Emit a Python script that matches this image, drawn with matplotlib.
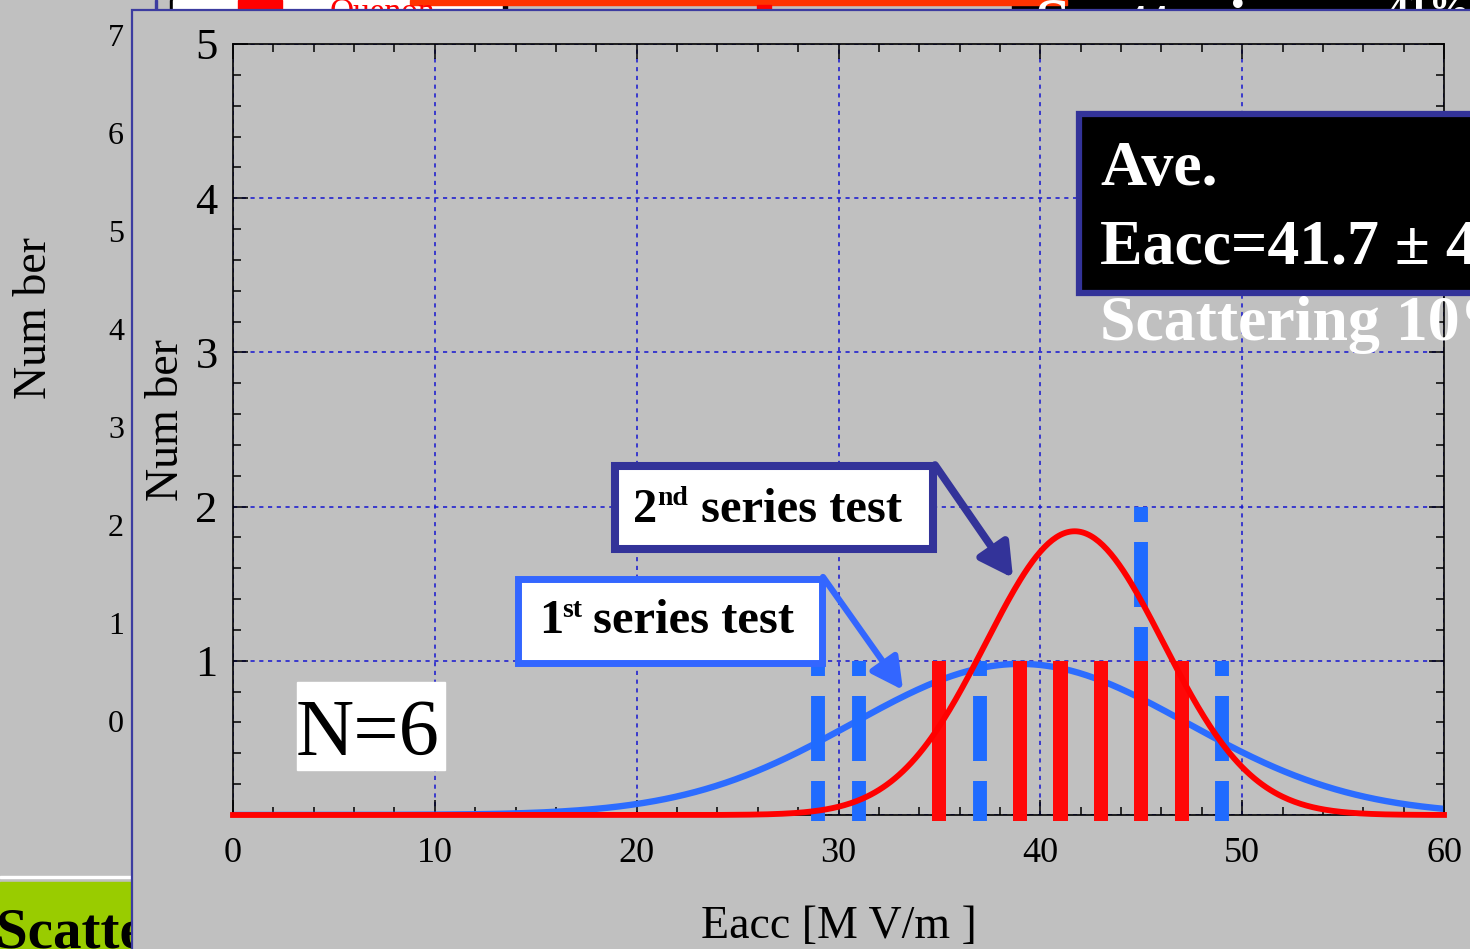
import numpy as np
import matplotlib
matplotlib.use("Agg")
from matplotlib import pyplot as plt
from matplotlib.patches import Rectangle, FancyArrowPatch

plt.rcParams['font.family'] = ['Liberation Serif', 'DejaVu Serif']
plt.rcParams['lines.scale_dashes'] = False

# counts per 2 MV/m bin
blue_x = [29, 31, 37, 45, 49]
blue_n = [1, 1, 1, 2, 1]
red_x = [35, 39, 41, 43, 45, 47]
red_n = [1, 1, 1, 1, 1, 1]

# gaussian fits: peak, mean, sigma
blue_fit = (0.98, 39.0, 8.3)
red_fit = (1.84, 41.7, 4.4)

x_ticks = [0, 10, 20, 30, 40, 50, 60]
x_labels = ['0', '10', '20', '30', '40', '50', '60']
y_ticks = [0, 1, 2, 3, 4, 5]
y_labels = ['', '1', '2', '3', '4', '5']
bg_ticks = [0, 1, 2, 3, 4, 5, 6, 7]

W, H = 1470, 949
GRAY = '#c0c0c0'


def fx(px):
    return px / W


def fy(py):
    return 1 - py / H


def rect(x0, y0, x1, y1, **kw):
    r = Rectangle((fx(x0), fy(y1)), fx(x1) - fx(x0), fy(y0) - fy(y1),
                  transform=fig.transFigure, **kw)
    fig.add_artist(r)
    return r


fig = plt.figure(figsize=(W / 100, H / 100), dpi=100, facecolor=GRAY)

# slide behind: old chart axis on the left
ax_bg = fig.add_axes([fx(131), fy(721), 0.3, fy(35) - fy(721)], zorder=0)
ax_bg.set_facecolor('none')
ax_bg.set_ylim(0, 7)
ax_bg.set_yticks(bg_ticks)
ax_bg.set_yticklabels([str(t) for t in bg_ticks])
ax_bg.tick_params(axis='y', length=0, pad=5, labelsize=23)
ax_bg.set_xticks([])
for s in ax_bg.spines.values():
    s.set_visible(False)
fig.text(fx(35), fy(318), 'Num ber', rotation=90, ha='center', va='center',
         size=33, zorder=0.6)

# bits of the slide peeking out at the top and bottom-left
rect(1012, 0, 1480, 10, color='black', zorder=0.45)
rect(155, 0, 157, 10, color='#3c3ca0', zorder=0.5)
rect(170, 0, 173, 10, color='black', zorder=0.5)
rect(173, 0, 503, 10, color='white', zorder=0.5)
rect(238, 0, 282, 10, color='#ff0000', zorder=0.5)
rect(503, 0, 507, 10, color='black', zorder=0.5)
rect(410, 0, 1067, 5, color='#ff3300', zorder=0.55)
rect(757, 5, 771, 10, color='#ff0000', zorder=0.55)
fig.text(fx(330), fy(21), 'Quenon', color='#ff0000', size=24,
         va='baseline', zorder=0.6)
fig.text(fx(1035), fy(42), 'Scattering', color='white', size=46,
         weight='bold', va='baseline', zorder=0.6)
fig.text(fx(1387), fy(22), '41%', color='white', size=30,
         weight='bold', va='baseline', zorder=0.6)
rect(0, 876, 131, 878, color='white', zorder=0.5)
rect(0, 882, 131, 960, color='#99cc00', zorder=0.5)
fig.text(fx(-4), fy(947), 'Scatte', color='black', size=41,
         weight='bold', va='baseline', zorder=0.6)

# front panel
rect(132, 10, 1500, 1000, facecolor=GRAY, edgecolor='#3c3ca0',
     linewidth=1.6, zorder=1)

# main histogram
ax = fig.add_axes([fx(233), fy(815), fx(1444) - fx(233), fy(44) - fy(815)],
                  zorder=2)
ax.set_facecolor('none')
ax.set_xlim(0, 60)
ax.set_ylim(0, 5)
ax.set_axisbelow(True)
ax.grid(True, which='major', color='#1515d0', linestyle=(0, (3, 3.3)),
        linewidth=1.1)

xs = np.linspace(0, 60, 601)
bp, bm, bs = blue_fit
rp, rm, rs = red_fit
ax.plot(xs, bp * np.exp(-0.5 * ((xs - bm) / bs) ** 2), color='#2c6cff',
        lw=4.6, zorder=2.5, solid_capstyle='butt')

for x, n in zip(blue_x, blue_n):
    ax.plot([x, x], [n, -0.04], color='#1f6bff', lw=10,
            dashes=[10.8, 14.4, 46.8, 14.4, 46.8, 14.4],
            dash_capstyle='butt', solid_capstyle='butt',
            clip_on=False, zorder=3)

ax.bar(red_x, np.array(red_n) + 0.04, bottom=-0.04, width=0.7,
       color='#ff0808', zorder=4, clip_on=False)

ax.plot(xs, rp * np.exp(-0.5 * ((xs - rm) / rs) ** 2), color='#ff0000',
        lw=4.2, zorder=5, clip_on=False)

ax.set_xticks(x_ticks)
ax.set_xticklabels(x_labels)
ax.set_yticks(y_ticks)
ax.set_yticklabels(y_labels)
ax.set_xticks(np.arange(0, 61, 2), minor=True)
ax.set_yticks(np.arange(0, 5.01, 0.2), minor=True)
ax.tick_params(which='both', direction='in', top=True, right=True,
               width=1.1, color='black')
ax.tick_params(which='major', length=11)
ax.tick_params(which='minor', length=6)
ax.tick_params(axis='x', which='major', labelsize=26, pad=16)
ax.tick_params(axis='y', which='major', labelsize=32, pad=11)
for s in ax.spines.values():
    s.set_linewidth(1.2)
    s.set_color('black')

ax.set_xlabel('Eacc [M V/m ]', size=33, va='center')
ax.xaxis.set_label_coords(0.5, -(927 - 815) / 771)
ax.set_ylabel('Num ber', size=33, va='center')
ax.yaxis.set_label_coords(-(233 - 167) / 1211, (815 - 420) / 771)

# N=6 tag
rect(297, 682, 445, 770, color='white', zorder=3)
fig.text(fx(368), fy(755), 'N=6', size=58, ha='center', va='baseline',
         zorder=6)

# series call-outs
rect(615, 466, 933, 549, facecolor='white', edgecolor='#333399',
     linewidth=5.8, zorder=5)
fig.text(fx(633), fy(522), '2', size=35, weight='bold', va='baseline', zorder=6)
fig.text(fx(657), fy(505), 'nd', size=20, weight='bold', va='baseline', zorder=6)
fig.text(fx(701), fy(522), 'series test', size=35, weight='bold',
         va='baseline', zorder=6)
fig.add_artist(FancyArrowPatch((fx(935), fy(465)), (fx(1013), fy(578)),
                               transform=fig.transFigure,
                               arrowstyle='-|>,head_length=1.0,head_width=0.55',
                               mutation_scale=20, color='#333399', lw=5.5,
                               shrinkA=0, shrinkB=0, zorder=5))

rect(517.5, 578.5, 821.5, 662.5, facecolor='white', edgecolor='#3366ff',
     linewidth=5, zorder=5)
fig.text(fx(539), fy(633), '1', size=35, weight='bold', va='baseline', zorder=6)
fig.text(fx(562), fy(617), 'st', size=20, weight='bold', va='baseline', zorder=6)
fig.text(fx(593), fy(633), 'series test', size=35, weight='bold',
         va='baseline', zorder=6)
fig.add_artist(FancyArrowPatch((fx(823), fy(577)), (fx(903), fy(690)),
                               transform=fig.transFigure,
                               arrowstyle='-|>,head_length=0.95,head_width=0.5',
                               mutation_scale=20, color='#3366ff', lw=4.5,
                               shrinkA=0, shrinkB=0, zorder=5))

# average box
rect(1079, 114, 1490, 293, facecolor='black', edgecolor='#333399',
     linewidth=4.5, zorder=5)
fig.text(fx(1100), fy(185), 'Ave.', color='white', size=46, weight='bold',
         va='baseline', zorder=6)
fig.text(fx(1100), fy(263), 'Eacc=41.7 ± 4', color='white', size=46,
         weight='bold', va='baseline', zorder=6)
fig.text(fx(1100), fy(340), 'Scattering 10%', color='white', size=46,
         weight='bold', va='baseline', zorder=6)

fig.savefig('out.png', dpi=100, facecolor=GRAY)
